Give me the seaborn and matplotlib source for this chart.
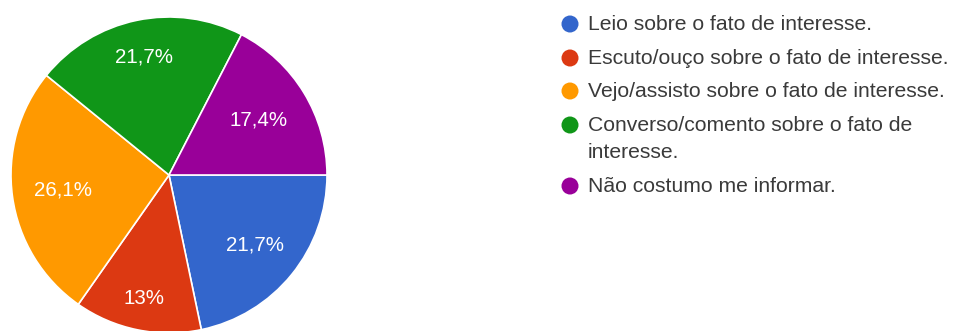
import matplotlib
matplotlib.use("Agg")
import matplotlib.pyplot as plt
import seaborn as sns
import numpy as np
from matplotlib.patches import Circle

sns.set_style("white")
plt.rcParams["font.family"] = ["Liberation Sans", "DejaVu Sans"]

categories = [
    "Leio sobre o fato de interesse.",
    "Escuto/ouço sobre o fato de interesse.",
    "Vejo/assisto sobre o fato de interesse.",
    "Converso/comento sobre o fato de\ninteresse.",
    "Não costumo me informar.",
]
values = [21.7, 13.0, 26.1, 21.7, 17.4]
pct_labels = ["21,7%", "13%", "26,1%", "21,7%", "17,4%"]
colors = ["#3366CC", "#DC3912", "#FF9900", "#109618", "#990099"]

# radial placement of the percentage labels inside each wedge
label_radius = [0.70, 0.80, 0.68, 0.76, 0.665]

W, H = 954, 331
fig = plt.figure(figsize=(W / 100, H / 100), dpi=100)

# pie area: centre (169, 175) px, radius 158 px
cx, cy, r = 169, 175, 158
ax = fig.add_axes([(cx - r) / W, (H - cy - r) / H, 2 * r / W, 2 * r / H])
wedges, _ = ax.pie(
    values,
    colors=colors,
    startangle=0,
    counterclock=False,
    wedgeprops=dict(edgecolor="white", linewidth=1.2),
)
ax.set_xlim(-1, 1)
ax.set_ylim(-1, 1)
ax.set_aspect("equal")
ax.axis("off")

for w, lab, lr in zip(wedges, pct_labels, label_radius):
    ang = np.deg2rad((w.theta1 + w.theta2) / 2)
    ax.text(lr * np.cos(ang), lr * np.sin(ang), lab, color="white",
            fontsize=14.8, ha="center", va="center")

# legend
row_y = [24, 58, 91, 125, 186]
mx, tx = 570, 588
for y, lab, c in zip(row_y, categories, colors):
    fig.patches.append(Circle((mx, H - y), 8.5, transform=None,
                              facecolor=c, edgecolor="none"))
    fig.text(tx / W, 1 - (y - 9) / H, lab, fontsize=15.2, color="#3a3a3a",
             ha="left", va="top", linespacing=1.55)

fig.savefig("out.png", dpi=100)
